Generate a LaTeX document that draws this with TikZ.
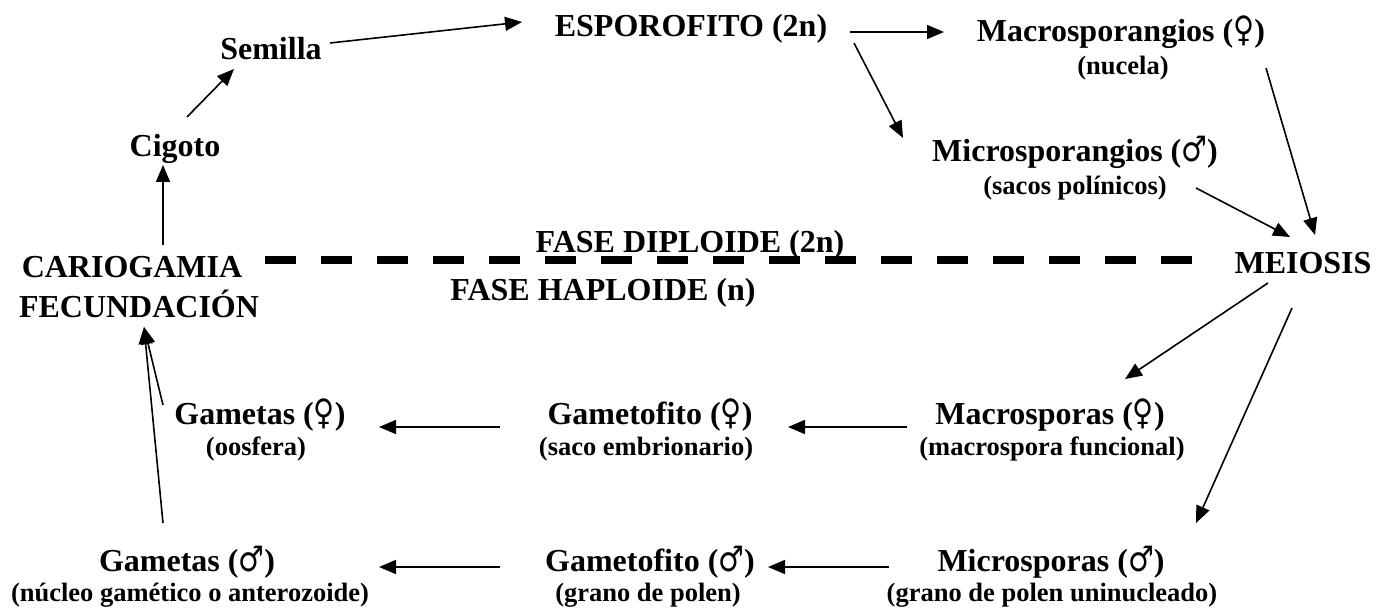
\documentclass[tikz,border=0pt]{standalone}
\usepackage{fontspec}
\setmainfont{Liberation Serif}
\newfontfamily\symfont{DejaVu Sans}
\usetikzlibrary{arrows.meta}
\tikzset{>={Triangle[length=17pt,width=14pt]}}
\newcommand{\fem}{\scalebox{0.9}[1.1]{\symfont\mdseries\char"2640}}
\newcommand{\masc}{\scalebox{0.9}[1.1]{\symfont\mdseries\char"2642}}
\tikzset{
  lbl/.style={font=\bfseries\fontsize{32}{35}\selectfont, inner sep=0pt, anchor=base},
  sub/.style={font=\bfseries\fontsize{26.5}{29}\selectfont, inner sep=0pt, anchor=base},
  arr/.style={->, line width=1.6pt},
  fase/.style={line width=8pt, dash pattern=on 31pt off 25pt}
}

\begin{document}
\begin{tikzpicture}[x=1pt,y=-1pt]
    \useasboundingbox (0,0) rectangle (1391,612);
    % fase diploide
    \node[lbl] (cig) at (175,157) {Cigoto};
    \node[lbl] (sem) at (271,60) {Semilla};
    \node[lbl] (espo) at (691,37) {ESPOROFITO (2n)};
    \node[lbl] (macsp) at (1121,42) {Macrosporangios (\fem)};
    \node[sub] (macspsub) at (1123,75) {(nucela)};
    \node[lbl] (micsp) at (1075,162) {Microsporangios (\masc)};
    \node[sub] (micspsub) at (1075,195) {(sacos polínicos)};
    % linea de fases
    \node[lbl] (carg) at (132,277) {CARIOGAMIA};
    \node[lbl] (fecun) at (139,317) {FECUNDACIÓN};
    \node[lbl] (dip) at (690,252) {FASE DIPLOIDE (2n)};
    \node[lbl] (hap) at (603,300) {FASE HAPLOIDE (n)};
    \node[lbl] (mei) at (1303,273) {MEIOSIS};
    \coordinate (fini) at (265,260);
    \coordinate (ffin) at (1193,260);
    \draw[fase] (fini) -- (ffin);
    % fase haploide
    \node[lbl] (gamf) at (260,424) {Gametas (\fem)};
    \node[sub] (gamfsub) at (256,455) {(oosfera)};
    \node[lbl] (gtf) at (650,424) {Gametofito (\fem)};
    \node[sub] (gtfsub) at (646,455) {(saco embrionario)};
    \node[lbl] (macr) at (1050,424) {Macrosporas (\fem)};
    \node[sub] (macrsub) at (1052,455) {(macrospora funcional)};
    \node[lbl] (gamm) at (187,571) {Gametas (\masc)};
    \node[sub] (gammsub) at (190,601) {(núcleo gamético o anterozoide)};
    \node[lbl] (gtm) at (650,571) {Gametofito (\masc)};
    \node[sub] (gtmsub) at (648,601) {(grano de polen)};
    \node[lbl] (micr) at (1051,571) {Microsporas (\masc)};
    \node[sub] (micrsub) at (1052,601) {(grano de polen uninucleado)};
    % flechas
    \draw[arr] ([shift={(31,-32)}]carg.base) -- ([shift={(-12,8)}]cig.base);
    \draw[arr] ([shift={(12,-40)}]cig.base) -- ([shift={(-37,9)}]sem.base);
    \draw[arr] ([shift={(59,-17)}]sem.base) -- ([shift={(-169,-15)}]espo.base);
    \draw[arr] ([shift={(159,-5)}]espo.base) -- ([shift={(-177,-10)}]macsp.base);
    \draw[arr] ([shift={(163,6)}]espo.base) -- ([shift={(-172,-24)}]micsp.base);
    \draw[arr] ([shift={(143,-7)}]macspsub.base) -- ([shift={(12,-38)}]mei.base);
    \draw[arr] ([shift={(121,-7)}]micspsub.base) -- ([shift={(-13,-36)}]mei.base);
    \draw[arr] ([shift={(-35,10)}]mei.base) -- ([shift={(75,-45)}]macr.base);
    \draw[arr] ([shift={(-11,35)}]mei.base) -- ([shift={(145,-48)}]micr.base);
    \draw[arr] ([shift={(-143,3)}]macr.base) -- ([shift={(138,3)}]gtf.base);
    \draw[arr] ([shift={(-150,3)}]gtf.base) -- ([shift={(119,3)}]gamf.base);
    \draw[arr] ([shift={(-162,-4)}]micr.base) -- ([shift={(118,-4)}]gtm.base);
    \draw[arr] ([shift={(-150,-4)}]gtm.base) -- ([shift={(192,-4)}]gamm.base);
    \draw[arr] ([shift={(-97,-19)}]gamf.base) -- ([shift={(5,10)}]fecun.base);
    \draw[arr] ([shift={(-24,-48)}]gamm.base) -- ([shift={(5,10)}]fecun.base);
\end{tikzpicture}
\end{document}
